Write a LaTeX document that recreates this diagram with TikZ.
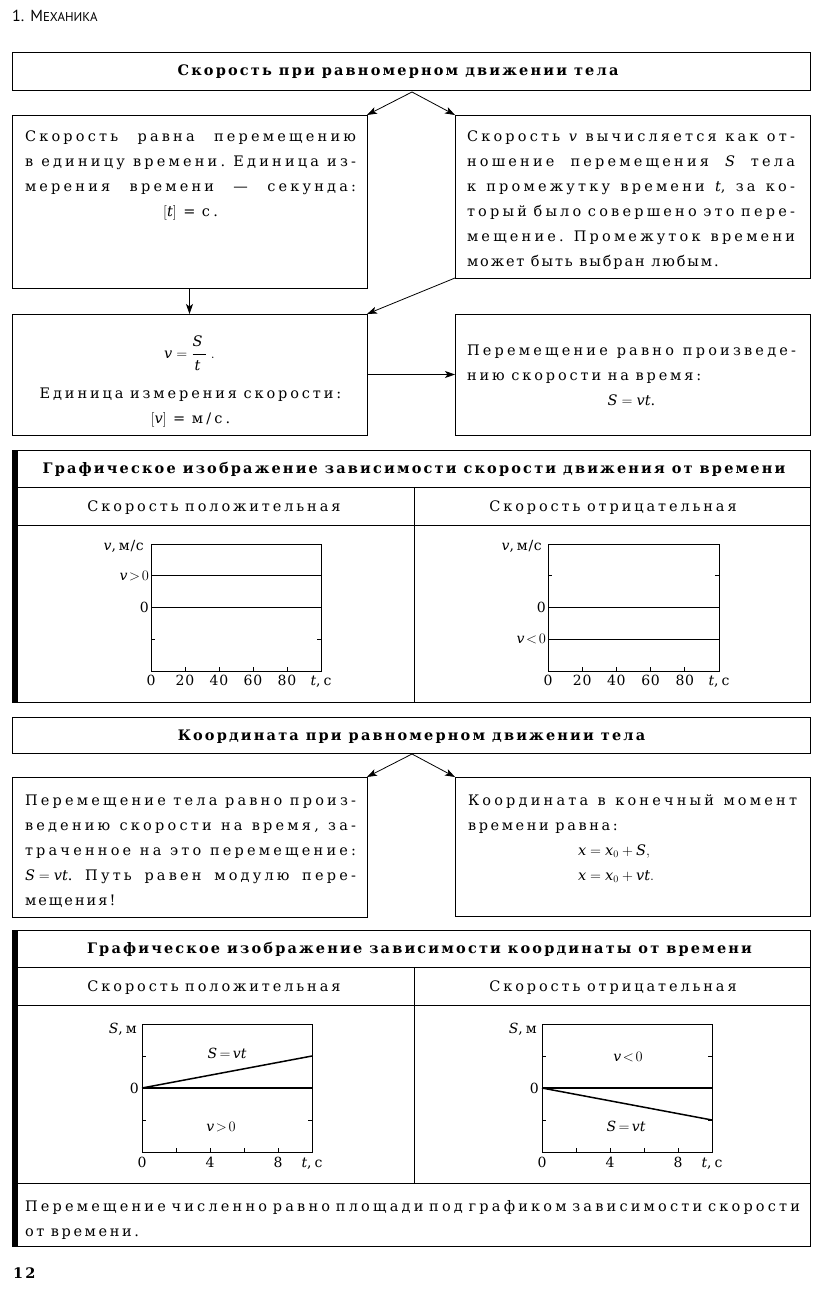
\documentclass[tikz,border=0pt]{standalone}
\usepackage{fontspec}
\usepackage{amsmath}
\setmainfont{DejaVu Serif}[LetterSpace=22, BoldFeatures={LetterSpace=15}]
\newfontfamily\hdrfont{PT Sans}
\usetikzlibrary{arrows.meta}
\setlength\parindent{0pt}
\newcommand\bodyfs{\fontsize{14.5}{25}\selectfont}
\newcommand\labfs{\fontsize{14}{16}\selectfont\addfontfeature{LetterSpace=5}}
\newcommand\ls[1]{\addfontfeature{LetterSpace=#1}}
\newcommand\ws{\hspace{6.5pt}}
\newcommand\bws{\hspace{7pt}}
\newcommand\jf{\hspace{4pt plus 1fill}}
\newcommand\mi[1]{\textit{#1}}
\newcommand\jlin[2][331pt]{\leavevmode\hbox to #1{#2}}
\newcommand\llin[2][331pt]{\makebox[#1][l]{#2}}
\newcommand\clin[2][331pt]{\makebox[#1][c]{#2}}
\newcommand\fst{\rule{0pt}{12pt}}
\tikzset{
  frm/.style={draw, line width=0.9pt, rectangle, inner sep=0pt, outer sep=0pt, anchor=north west},
  txtn/.style={inner sep=0pt, outer sep=0pt, anchor=north west, text width=#1, align=left, font=\bodyfs},
  ttl/.style={inner sep=0pt, anchor=base, font=\bodyfs\bfseries},
  sub/.style={inner sep=0pt, anchor=base, font=\bodyfs\ls{20}},
  arr/.style={line width=0.8pt, -{Stealth[length=10pt,width=7pt,inset=2.5pt]}},
  ax/.style={line width=0.9pt},
  gl/.style={line width=1.1pt},
  sl/.style={line width=1.5pt},
  lab/.style={inner sep=0pt, font=\labfs},
}
\begin{document}
\begin{tikzpicture}[x=1pt,y=-1pt]
\path[use as bounding box, fill=white] (0,0) rectangle (828,1292);

% header and page number
\node[anchor=base west, inner sep=0pt, font=\hdrfont\fontsize{16}{18}\selectfont] (hdr) at (12,21.7) {1.\hspace{6pt}М{\fontsize{12.8}{14}\selectfont ЕХАНИКА}};
\node[anchor=base west, inner sep=0pt, font=\fontsize{14.5}{16}\selectfont\bfseries\ls{4}] (pg) at (13,1278) {12};

% ---------- block 1 ----------
\node[frm, minimum width=798pt, minimum height=38pt] (t1) at (12,52) {};
\node[ttl] (t1t) at (398,76) {\ls{24}Скорость\bws при\bws равномерном\bws движении\bws тела};
\node[frm, minimum width=355pt, minimum height=173pt] (b2) at (12,115) {};
\node[frm, minimum width=355pt, minimum height=163pt] (b3) at (455,115) {};
\node[frm, minimum width=355pt, minimum height=121pt] (b4) at (12,314) {};
\node[frm, minimum width=355pt, minimum height=121pt] (b5) at (455,314) {};
\coordinate (s1) at (412,92);
\draw[arr] (s1) -- (b2.north east);
\draw[arr] (s1) -- (b3.north west);
\draw[arr] (b2.south) -- (b4.north);
\draw[arr] (b3.south west) -- (b4.north east);
\draw[arr] (b4.east) -- (b5.west);

\node[txtn=331pt] (b2t) at (25,129.5) {\fst\jlin{Скорость\jf равна\jf перемещению}\\
\jlin{в\jf единицу\jf времени.\jf Единица\jf из-}\\
\jlin{мерения\jf времени\jf —\jf секунда:}\\
\clin{$[\mi{t}]$\ws=\ws с.}};

\node[txtn=328pt] (b3t) at (467,129.5) {\fst\jlin[328pt]{Скорость\jf $\mi{v}$\jf вычисляется\jf как\jf от-}\\
\jlin[328pt]{ношение\jf перемещения\jf $\mi{S}$\jf тела}\\
\jlin[328pt]{к\jf промежутку\jf времени\jf $\mi{t}$,\jf за\jf ко-}\\
\jlin[328pt]{торый\jf было\jf совершено\jf это\jf пере-}\\
\jlin[328pt]{мещение.\jf Промежуток\jf времени}\\
\llin[328pt]{\ls{13}может\ws быть\ws выбран\ws любым.}};

\node[inner sep=0pt, font=\bodyfs] (b4f) at (189.5,353) {$\mi{v} = \dfrac{\raisebox{2pt}{\mi{S}}}{\raisebox{-2pt}{\mi{t}}}\;.$};
\node[txtn=331pt] (b4t) at (25,386) {\fst\clin{\ls{20}Единица\ws измерения\ws скорости:}\\
\clin{$[\mi{v}]$\ws=\ws м/с.}};

\node[txtn=329pt] (b5t) at (467,343) {\fst\jlin[329pt]{Перемещение\jf равно\jf произведе-}\\
\llin[329pt]{\ls{20}нию\ws скорости\ws на\ws время:}\\
\clin[329pt]{$\mi{S} = \mi{v}\mi{t}$.}};

% ---------- table 1 ----------
\node[frm, minimum width=798pt, minimum height=252pt] (tab1) at (12,450) {};
\fill (tab1.north west) rectangle ([xshift=6pt]tab1.south west);
\draw[ax] (12,487) -- (810,487);
\draw[ax] (12,525) -- (810,525);
\draw[ax] (414,487) -- (414,702);
\node[ttl] (tab1t) at (414,473) {\ls{9.6}Графическое\bws изображение\bws зависимости\bws скорости\bws движения\bws от\bws времени};
\node[sub] (tab1l) at (214,511) {Скорость\ws положительная};
\node[sub] (tab1r) at (613,511) {Скорость\ws отрицательная};

% graph 1
\draw[ax] (151,544) rectangle (321,671);
\foreach \k in {1,2,3,4} \draw[ax] ({151+34*\k},671) -- ++(0,-4);
\foreach \yy in {575.75,607.5,639.25} {\draw[ax] (151,\yy) -- ++(4,0); \draw[ax] (321,\yy) -- ++(-4,0);}
\draw[gl] (151,575.75) -- (321,575.75);
\draw[gl] (151,607.5) -- (321,607.5);
\node[lab, anchor=base east] (g1y) at (144,550) {\mi{v},\hspace{3pt}м/с};
\node[lab, anchor=east] (g1a) at (149,575.75) {$\mi{v}\!>\!0$};
\node[lab, anchor=east] (g1z) at (149,607.5) {0};
\foreach \k/\t in {0/0,1/20,2/40,3/60,4/80} \node[lab, anchor=base] (g1x\k) at ({151+34*\k},685) {\t};
\node[lab, anchor=base] (g1t) at (321,685) {\mi{t},\hspace{3pt}с};

% graph 2
\draw[ax] (548,544) rectangle (719,671);
\foreach \k in {1,2,3,4} \draw[ax] ({548+34.2*\k},671) -- ++(0,-4);
\foreach \yy in {575.75,607.5,639.25} {\draw[ax] (548,\yy) -- ++(4,0); \draw[ax] (719,\yy) -- ++(-4,0);}
\draw[gl] (548,607.5) -- (719,607.5);
\draw[gl] (548,639.25) -- (719,639.25);
\node[lab, anchor=base east] (g2y) at (542,550) {\mi{v},\hspace{3pt}м/с};
\node[lab, anchor=east] (g2z) at (546,607.5) {0};
\node[lab, anchor=east] (g2a) at (546,639.25) {$\mi{v}\!<\!0$};
\foreach \k/\t in {0/0,1/20,2/40,3/60,4/80} \node[lab, anchor=base] (g2x\k) at ({548+34.2*\k},685) {\t};
\node[lab, anchor=base] (g2t) at (719,685) {\mi{t},\hspace{3pt}с};

% ---------- block 2 ----------
\node[frm, minimum width=798pt, minimum height=36pt] (t2) at (12,717) {};
\node[ttl] (t2t) at (411.5,740) {\ls{11.6}Координата\bws при\bws равномерном\bws движении\bws тела};
\node[frm, minimum width=355pt, minimum height=140pt] (b7) at (12,777) {};
\node[frm, minimum width=355pt, minimum height=139pt] (b8) at (455,777) {};
\coordinate (s2) at (412,754);
\draw[arr] (s2) -- (b7.north east);
\draw[arr] (s2) -- (b8.north west);

\node[txtn=331pt] (b7t) at (25,793) {\fst\jlin{Перемещение\jf тела\jf равно\jf произ-}\\
\jlin{ведению\jf скорости\jf на\jf время,\jf за-}\\
\jlin{траченное\jf на\jf это\jf перемещение:}\\
\jlin{$\mi{S} = \mi{v}\mi{t}$.\jf Путь\jf равен\jf модулю\jf пере-}\\
\llin{\ls{14}мещения!}};

\node[txtn=329pt] (b8t) at (468,793) {\fst\jlin[329pt]{Координата\jf в\jf конечный\jf момент}\\
\llin[329pt]{\ls{18}времени\ws равна:}\\
\llin[329pt]{\hspace*{110pt}$\mi{x} = \mi{x}_0 + \mi{S},$}\\
\llin[329pt]{\hspace*{110pt}$\mi{x} = \mi{x}_0 + \mi{v}\mi{t}.$}};

% ---------- table 2 ----------
\node[frm, minimum width=798pt, minimum height=316pt] (tab2) at (12,930) {};
\fill (tab2.north west) rectangle ([xshift=6pt]tab2.south west);
\draw[ax] (12,967) -- (810,967);
\draw[ax] (12,1005) -- (810,1005);
\draw[ax] (12,1183) -- (810,1183);
\draw[ax] (414,967) -- (414,1183);
\node[ttl] (tab2t) at (419.5,953) {\ls{10}Графическое\bws изображение\bws зависимости\bws координаты\bws от\bws времени};
\node[sub] (tab2l) at (214,991) {Скорость\ws положительная};
\node[sub] (tab2r) at (613,991) {Скорость\ws отрицательная};

% graph 3
\draw[ax] (142,1024) rectangle (312,1152);
\foreach \k in {1,2,3,4} \draw[ax] ({142+34*\k},1152) -- ++(0,-4);
\foreach \yy in {1056,1120} {\draw[ax] (142,\yy) -- ++(4,0); \draw[ax] (312,\yy) -- ++(-4,0);}
\draw[gl] (142,1088) -- (312,1088);
\draw[sl] (142,1088) -- (312,1056);
\node[lab, anchor=base east] (g3y) at (137,1033) {\mi{S},\hspace{3pt}м};
\node[lab, anchor=east] (g3z) at (139,1088) {0};
\foreach \k/\t in {0/0,2/4,4/8} \node[lab, anchor=base] (g3x\k) at ({142+34*\k},1167) {\t};
\node[lab, anchor=base] (g3t) at (312,1167) {\mi{t},\hspace{3pt}с};
\node[lab] (g3f) at (227,1053) {$\mi{S}\,{=}\,\mi{v}\mi{t}$};
\node[lab] (g3v) at (221,1127) {$\mi{v}\!>\!0$};

% graph 4
\draw[ax] (542,1024) rectangle (712,1152);
\foreach \k in {1,2,3,4} \draw[ax] ({542+34*\k},1152) -- ++(0,-4);
\foreach \yy in {1056,1120} {\draw[ax] (542,\yy) -- ++(4,0); \draw[ax] (712,\yy) -- ++(-4,0);}
\draw[gl] (542,1088) -- (712,1088);
\draw[sl] (542,1088) -- (712,1120);
\node[lab, anchor=base east] (g4y) at (537,1033) {\mi{S},\hspace{3pt}м};
\node[lab, anchor=east] (g4z) at (539,1088) {0};
\foreach \k/\t in {0/0,2/4,4/8} \node[lab, anchor=base] (g4x\k) at ({542+34*\k},1167) {\t};
\node[lab, anchor=base] (g4t) at (712,1167) {\mi{t},\hspace{3pt}с};
\node[lab] (g4v) at (628,1057) {$\mi{v}\!<\!0$};
\node[lab] (g4f) at (626,1126) {$\mi{S}\,{=}\,\mi{v}\mi{t}$};

\node[txtn=775pt] (tab2b) at (25,1199) {\fst\jlin[775pt]{Перемещение\jf численно\jf равно\jf площади\jf под\jf графиком\jf зависимости\jf скорости}\\
\llin[775pt]{\ls{18}от\ws времени.}};
\end{tikzpicture}
\end{document}
